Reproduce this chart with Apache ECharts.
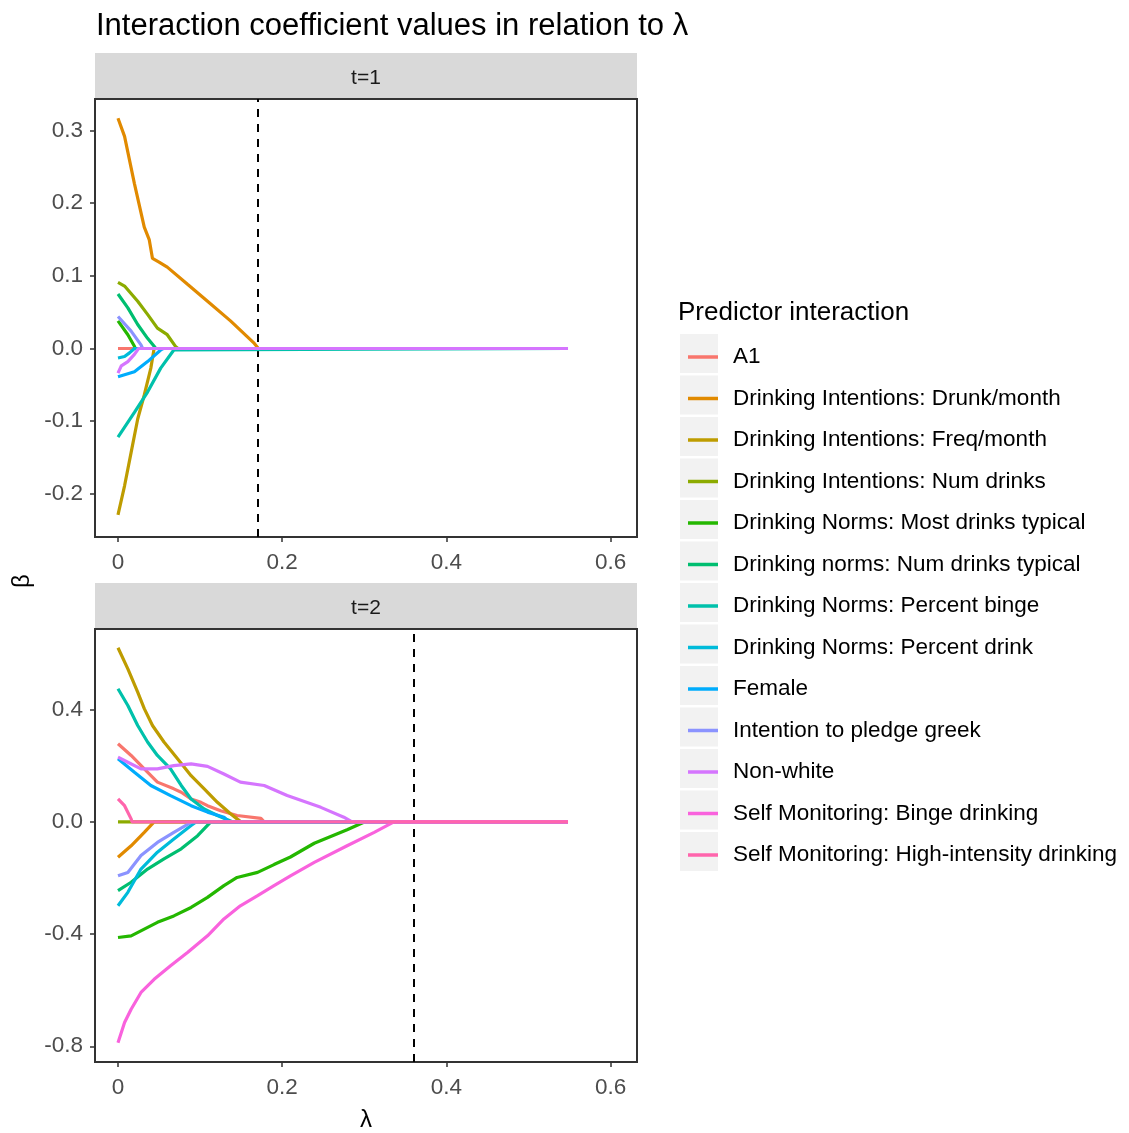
<!DOCTYPE html>
<html>
<head>
<meta charset="utf-8">
<title>Interaction coefficient values in relation to λ</title>
<script src="https://cdn.jsdelivr.net/npm/echarts@6/dist/echarts.min.js"></script>
<style>
  html, body { margin: 0; padding: 0; background: #fff; }
  #chart { width: 1129px; height: 1133px; }
</style>
</head>
<body>
<div id="chart"></div>
<script>
// Predictor interaction names (legend order) and ggplot hue colours
const predictorNames = [
  'A1',
  'Drinking Intentions: Drunk/month',
  'Drinking Intentions: Freq/month',
  'Drinking Intentions: Num drinks',
  'Drinking Norms: Most drinks typical',
  'Drinking norms: Num drinks typical',
  'Drinking Norms: Percent binge',
  'Drinking Norms: Percent drink',
  'Female',
  'Intention to pledge greek',
  'Non-white',
  'Self Monitoring: Binge drinking',
  'Self Monitoring: High-intensity drinking'
];
const predictorColors = [
  '#F8766D', '#E18A00', '#BE9C00', '#8CAB00', '#24B700', '#00BE70', '#00C1AB',
  '#00BBDA', '#00ACFC', '#8B93FF', '#D575FE', '#F962DD', '#FF65AC'
];

// Panel labels and selected lambda (dashed line) per panel
const panelLabels = ['t=1', 't=2'];
const selectedLambda = [0.171, 0.361];

// Axis ticks
const lambdaTicks = [0, 0.2, 0.4, 0.6];
const betaTicksT1 = [-0.2, -0.1, 0.0, 0.1, 0.2, 0.3];
const betaTicksT2 = [-0.8, -0.4, 0.0, 0.4];

// Coefficient paths, t=1: [lambda, beta]
const t1_A1 = [[0, 0], [0.548, 0]];
const t1_drunkMonth = [[0, 0.317], [0.008, 0.292], [0.020, 0.227], [0.032, 0.167], [0.038, 0.150], [0.042, 0.124], [0.050, 0.119], [0.060, 0.112], [0.085, 0.088], [0.109, 0.065], [0.137, 0.038], [0.166, 0.007], [0.171, 0], [0.548, 0]];
const t1_freqMonth = [[0, -0.229], [0.008, -0.189], [0.016, -0.143], [0.024, -0.097], [0.032, -0.064], [0.040, -0.027], [0.044, 0], [0.548, 0]];
const t1_numDrinks = [[0, 0.091], [0.008, 0.086], [0.024, 0.065], [0.036, 0.047], [0.048, 0.028], [0.060, 0.019], [0.070, 0.003], [0.073, 0], [0.548, 0]];
const t1_mostTypical = [[0, 0.038], [0.012, 0.019], [0.020, 0.003], [0.021, 0], [0.548, 0]];
const t1_numTypical = [[0, 0.075], [0.012, 0.056], [0.024, 0.033], [0.036, 0.014], [0.044, 0.003], [0.046, 0], [0.548, 0]];
const t1_pctBinge = [[0, -0.122], [0.020, -0.088], [0.036, -0.060], [0.052, -0.027], [0.068, -0.002], [0.070, 0], [0.548, 0]];
const t1_pctDrink = [[0, -0.013], [0.008, -0.011], [0.014, -0.006], [0.020, 0], [0.548, 0]];
const t1_female = [[0, -0.039], [0.020, -0.032], [0.036, -0.018], [0.052, -0.002], [0.055, 0], [0.548, 0]];
const t1_greek = [[0, 0.044], [0.016, 0.024], [0.028, 0.005], [0.030, 0], [0.548, 0]];
const t1_nonWhite = [[0, -0.034], [0.004, -0.024], [0.012, -0.018], [0.020, -0.008], [0.025, 0], [0.548, 0]];

// Coefficient paths, t=2: [lambda, beta]
const t2_A1 = [[0, 0.279], [0.016, 0.237], [0.032, 0.189], [0.048, 0.142], [0.068, 0.118], [0.077, 0.106], [0.089, 0.082], [0.101, 0.070], [0.109, 0.058], [0.125, 0.040], [0.145, 0.023], [0.174, 0.013], [0.178, 0], [0.548, 0]];
const t2_drunkMonth = [[0, -0.126], [0.016, -0.085], [0.032, -0.037], [0.044, 0], [0.548, 0]];
const t2_freqMonth = [[0, 0.621], [0.012, 0.546], [0.024, 0.463], [0.032, 0.404], [0.042, 0.344], [0.056, 0.285], [0.0725, 0.225], [0.089, 0.165], [0.105, 0.118], [0.121, 0.070], [0.137, 0.029], [0.145, 0.011], [0.150, 0], [0.548, 0]];
const t2_numDrinks = [[0, 0], [0.548, 0]];
const t2_mostTypical = [[0, -0.412], [0.016, -0.406], [0.032, -0.382], [0.048, -0.358], [0.068, -0.335], [0.089, -0.305], [0.109, -0.269], [0.129, -0.227], [0.145, -0.198], [0.170, -0.180], [0.190, -0.152], [0.210, -0.125], [0.239, -0.076], [0.279, -0.028], [0.300, 0], [0.548, 0]];
const t2_numTypical = [[0, -0.245], [0.016, -0.215], [0.036, -0.168], [0.056, -0.132], [0.077, -0.096], [0.097, -0.049], [0.113, 0], [0.548, 0]];
const t2_pctBinge = [[0, 0.475], [0.012, 0.415], [0.024, 0.344], [0.036, 0.285], [0.048, 0.237], [0.064, 0.189], [0.077, 0.130], [0.089, 0.082], [0.105, 0.046], [0.121, 0.023], [0.140, 0], [0.548, 0]];
const t2_pctDrink = [[0, -0.299], [0.012, -0.251], [0.028, -0.168], [0.048, -0.108], [0.068, -0.061], [0.089, -0.013], [0.095, 0], [0.548, 0]];
const t2_female = [[0, 0.225], [0.020, 0.177], [0.040, 0.130], [0.064, 0.094], [0.089, 0.058], [0.109, 0.035], [0.129, 0.017], [0.135, 0], [0.548, 0]];
const t2_greek = [[0, -0.192], [0.012, -0.180], [0.028, -0.120], [0.048, -0.073], [0.068, -0.037], [0.090, 0], [0.548, 0]];
const t2_nonWhite = [[0, 0.231], [0.012, 0.213], [0.028, 0.189], [0.048, 0.189], [0.068, 0.201], [0.089, 0.207], [0.109, 0.198], [0.129, 0.171], [0.149, 0.142], [0.178, 0.130], [0.206, 0.094], [0.247, 0.052], [0.275, 0.017], [0.285, 0], [0.548, 0]];
const t2_smBinge = [[0, -0.787], [0.008, -0.715], [0.016, -0.668], [0.028, -0.608], [0.044, -0.561], [0.064, -0.513], [0.085, -0.465], [0.109, -0.406], [0.129, -0.346], [0.149, -0.299], [0.170, -0.263], [0.190, -0.227], [0.210, -0.192], [0.239, -0.144], [0.279, -0.085], [0.312, -0.037], [0.336, 0], [0.548, 0]];
const t2_smHigh = [[0, 0.082], [0.008, 0.058], [0.016, 0.011], [0.017, 0], [0.548, 0]];

// Paths per panel, in legend order (null = predictor not in that panel)
const panelPaths = [
  [t1_A1, t1_drunkMonth, t1_freqMonth, t1_numDrinks, t1_mostTypical, t1_numTypical,
   t1_pctBinge, t1_pctDrink, t1_female, t1_greek, t1_nonWhite, null, null],
  [t2_A1, t2_drunkMonth, t2_freqMonth, t2_numDrinks, t2_mostTypical, t2_numTypical,
   t2_pctBinge, t2_pctDrink, t2_female, t2_greek, t2_nonWhite, t2_smBinge, t2_smHigh]
];

const FONT = '"Liberation Sans", Arial, sans-serif';
const panelLeft = 95, panelWidth = 542;
const panelTops = [99, 629], panelHeights = [438, 436];
const stripH = 45;
const yRanges = [[-0.2595, 0.3435], [-0.856, 0.688]];
const yTicks = [betaTicksT1, betaTicksT2];

const chart = echarts.init(document.getElementById('chart'), null, { renderer: 'canvas' });

const grids = panelTops.map((top, i) => ({
  left: panelLeft, top: top, width: panelWidth, height: panelHeights[i],
  show: true, borderColor: '#333333', borderWidth: 2, backgroundColor: '#ffffff',
  containLabel: false
}));

const xAxes = panelTops.map((_, i) => ({
  type: 'value', gridIndex: i, min: -0.028, max: 0.632, position: 'bottom',
  axisLine: { show: false, onZero: false },
  splitLine: { show: false },
  axisTick: { show: true, length: 5, customValues: lambdaTicks, lineStyle: { color: '#333333', width: 1.5 } },
  axisLabel: {
    customValues: lambdaTicks, margin: 14, fontSize: 22.5, color: '#4D4D4D', fontFamily: FONT,
    formatter: v => String(Math.round(v * 10) / 10)
  },
  name: i === 1 ? 'λ' : '', nameLocation: 'middle', nameGap: 46,
  nameTextStyle: { fontSize: 24, color: '#000', fontFamily: FONT }
}));

const yAxes = panelTops.map((_, i) => ({
  type: 'value', gridIndex: i, min: yRanges[i][0], max: yRanges[i][1], position: 'left',
  axisLine: { show: false, onZero: false },
  splitLine: { show: false },
  axisTick: { show: true, length: 5, customValues: yTicks[i], lineStyle: { color: '#333333', width: 1.5 } },
  axisLabel: {
    customValues: yTicks[i], margin: 12, fontSize: 22.5, color: '#4D4D4D', fontFamily: FONT,
    formatter: v => (Math.abs(v) < 1e-9 ? 0 : v).toFixed(1)
  }
}));

const series = [];
panelPaths.forEach((paths, p) => {
  let first = true;
  paths.forEach((path, k) => {
    if (!path) return;
    const s = {
      type: 'line', name: predictorNames[k], xAxisIndex: p, yAxisIndex: p,
      data: path, showSymbol: false, symbol: 'none', clip: true,
      color: predictorColors[k],
      lineStyle: { width: 3.2, color: predictorColors[k] },
      emphasis: { disabled: true }, z: 2 + k * 0.01
    };
    if (first) {
      s.markLine = {
        silent: true, symbol: ['none', 'none'], label: { show: false },
        lineStyle: { color: '#000', type: [8, 7], width: 2 },
        data: [{ xAxis: selectedLambda[p] }], z: 1
      };
      first = false;
    }
    series.push(s);
  });
});

// Strip boxes, strip labels, legend key backgrounds, y axis title
const graphics = [];
panelTops.forEach((top, i) => {
  graphics.push({
    type: 'rect', shape: { x: panelLeft, y: top - stripH - 1, width: panelWidth, height: stripH },
    style: { fill: '#D9D9D9' }, silent: true
  });
  graphics.push({
    type: 'text', x: panelLeft + panelWidth / 2, y: top - stripH / 2 + 2,
    style: { text: panelLabels[i], fontSize: 21, fill: '#1A1A1A', fontFamily: FONT, align: 'center', verticalAlign: 'middle' },
    silent: true
  });
});
predictorNames.forEach((_, i) => {
  graphics.push({
    type: 'rect', z: -1, shape: { x: 680, y: 334 + i * 41.5, width: 38, height: 39 },
    style: { fill: '#F2F2F2' }, silent: true
  });
});
graphics.push({
  type: 'text', x: 22, y: 581, rotation: Math.PI / 2,
  style: { text: 'β', fontSize: 24, fill: '#000', fontFamily: FONT, align: 'center', verticalAlign: 'middle' },
  silent: true
});

chart.setOption({
  animation: false,
  backgroundColor: '#ffffff',
  textStyle: { fontFamily: FONT },
  title: [
    { text: 'Interaction coefficient values in relation to λ', left: 91, top: 6,
      textStyle: { fontSize: 31, fontWeight: 'normal', color: '#000', fontFamily: FONT } },
    { text: 'Predictor interaction', left: 673, top: 295,
      textStyle: { fontSize: 26, fontWeight: 'normal', color: '#000', fontFamily: FONT } }
  ],
  legend: {
    data: predictorNames, orient: 'vertical', left: 683, top: 340,
    icon: 'rect', itemWidth: 30, itemHeight: 3.5, itemGap: 17.5,
    selectedMode: false,
    textStyle: { fontSize: 22.5, color: '#000', fontFamily: FONT, lineHeight: 24, padding: [0, 0, 0, 10] }
  },
  grid: grids,
  xAxis: xAxes,
  yAxis: yAxes,
  graphic: graphics,
  series: series
});
</script>
</body>
</html>
